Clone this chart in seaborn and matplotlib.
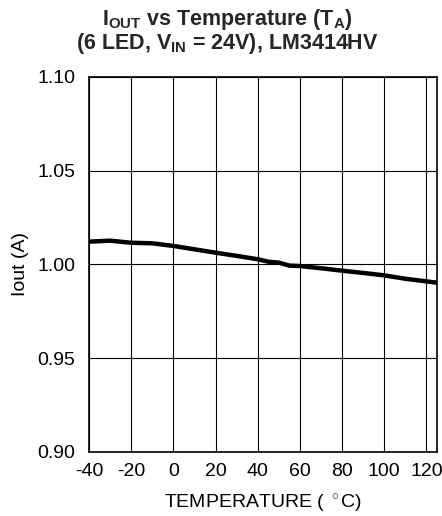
import matplotlib
matplotlib.use('Agg')
import matplotlib.pyplot as plt
import numpy as np
import pandas as pd
import seaborn as sns

# Values
temperature = [-40, -30, -20, -10, 0, 10, 20, 30, 40, 45, 50, 55, 60, 70, 80, 90, 100, 110, 125]
iout = [1.0122, 1.0127, 1.0116, 1.0113, 1.0099, 1.0081, 1.0063, 1.0046, 1.0028, 1.0015,
        1.0010, 0.9994, 0.9992, 0.9980, 0.9967, 0.9955, 0.9942, 0.9924, 0.9903]
x_ticks = [-40, -20, 0, 20, 40, 60, 80, 100, 120]
y_ticks = [0.90, 0.95, 1.00, 1.05, 1.10]

df = pd.DataFrame({"temp": temperature, "iout": iout})

sns.set_theme(style="white")
plt.rcParams['font.family'] = ['Liberation Sans', 'DejaVu Sans']
plt.rcParams['axes.unicode_minus'] = False
plt.rcParams['mathtext.fontset'] = 'custom'
plt.rcParams['mathtext.rm'] = 'Liberation Sans'
plt.rcParams['mathtext.it'] = 'Liberation Sans'
plt.rcParams['mathtext.bf'] = 'Liberation Sans:bold'

fig = plt.figure(figsize=(4.42, 5.16), dpi=100)
ax = fig.add_axes([89 / 442, 64 / 516, 348 / 442, 375 / 516])

sns.lineplot(data=df, x="temp", y="iout", ax=ax, color="black", linewidth=3.2)

ax.set_xlim(-40, 125)
ax.set_ylim(0.90, 1.10)
ax.set_xticks(x_ticks)
ax.set_yticks(y_ticks)
ax.set_yticklabels([f"{v:.2f}" for v in y_ticks])
ax.grid(True, color="black", linewidth=0.8)
ax.tick_params(axis="both", length=0, labelsize=14, colors="black")
ax.tick_params(axis="x", pad=8)
ax.tick_params(axis="y", pad=10)
for s in ax.spines.values():
    s.set_color("black")
    s.set_linewidth(1.2)

ax.set_xlabel(r"TEMPERATURE ( $^\circ$C)", fontsize=14, color="black", labelpad=9)
ax.set_ylabel("Iout (A)", fontsize=14, color="black", labelpad=6)

fig.text(0.515, 0.986, r"I$_{\mathbf{OUT}}$ vs Temperature (T$_{\mathbf{A}}$)" + "\n"
         + r"(6 LED, V$_{\mathbf{IN}}$ = 24V), LM3414HV",
         ha="center", va="top", fontsize=15.5, fontweight="bold", linespacing=0.95)

fig.savefig("out.png", dpi=100)
